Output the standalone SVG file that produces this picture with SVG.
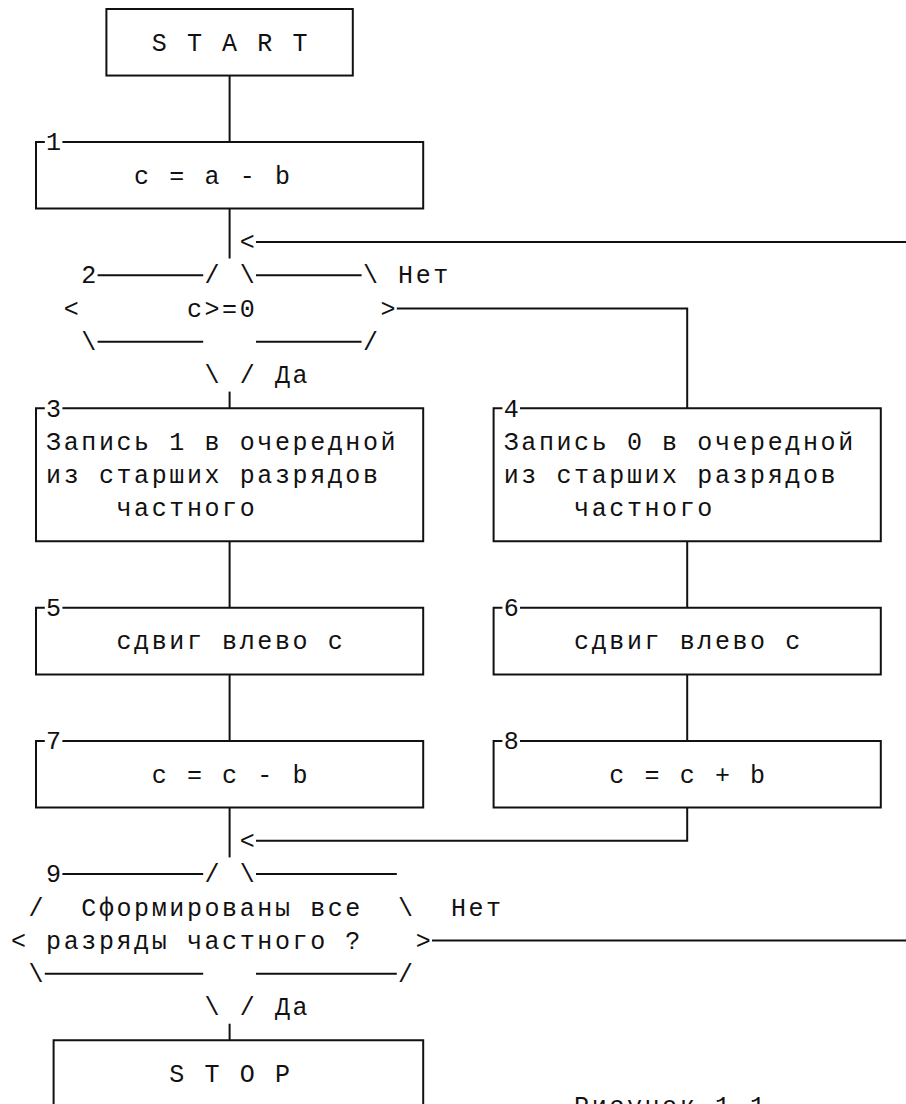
<svg xmlns="http://www.w3.org/2000/svg" width="906" height="1104" viewBox="0 0 906 1104">
  <style>
    .t { font-family: "Liberation Mono", "DejaVu Sans Mono", monospace; font-size: 25px; letter-spacing: 2.6px; fill: #111; }
    .ln { stroke: #111; stroke-width: 2; fill: none; stroke-linecap: butt; stroke-linejoin: miter; }
  </style>
  <rect x="0" y="0" width="906" height="1104" fill="#fff"/>

  <!-- connectors: column 11 = x 229.6, column 37 = x 687.2 -->
  <g id="connectors">
    <path class="ln" d="M229.6,75.54 V142.08"/>
    <path class="ln" d="M229.6,208.62 V258.5"/>
    <path class="ln" d="M256,241.89 H910"/>
    <text class="t" x="239.7" y="250.19">&lt;</text>
    <path class="ln" d="M396.8,308.43 H687.2 V408.24"/>
    <path class="ln" d="M229.6,391.6 V408.24"/>
    <path class="ln" d="M229.6,541.32 V607.86"/>
    <path class="ln" d="M687.2,541.32 V607.86"/>
    <path class="ln" d="M229.6,674.4 V740.94"/>
    <path class="ln" d="M687.2,674.4 V740.94"/>
    <path class="ln" d="M229.6,807.48 V857.4"/>
    <path class="ln" d="M687.2,807.48 V840.75 H256"/>
    <text class="t" x="239.7" y="849.05">&lt;</text>
    <path class="ln" d="M432,940.56 H910"/>
    <path class="ln" d="M229.6,1023.7 V1040.37"/>
  </g>

  <g id="start">
    <rect class="ln" x="106.4" y="9" width="246.4" height="66.54"/>
    <text class="t" x="151.7" y="50.57">S T A R T</text>
  </g>

  <g id="n1">
    <path class="ln" d="M44.8,142.08 H36 V208.62 H423.2 V142.08 H62.4"/>
    <text class="t" x="46.1" y="150.38">1</text>
    <text class="t" x="134.1" y="183.65">c = a - b</text>
  </g>

  <g id="n2">
    <text class="t" x="81.3" y="283.46">2</text>
    <path class="ln" d="M97.6,275.16 H203.2 M256,275.16 H361.6"/>
    <text class="t" x="204.5" y="283.46">/</text>
    <text class="t" x="239.7" y="283.46">\</text>
    <text class="t" x="362.9" y="283.46">\</text>
    <text class="t" x="398.1" y="283.46">Нет</text>
    <text class="t" x="63.7" y="316.73">&lt;</text>
    <text class="t" x="186.9" y="316.73">c&gt;=0</text>
    <text class="t" x="380.5" y="316.73">&gt;</text>
    <text class="t" x="81.3" y="350">\</text>
    <path class="ln" d="M97.6,341.7 H203.2 M256,341.7 H361.6"/>
    <text class="t" x="362.9" y="350">/</text>
    <text class="t" x="204.5" y="383.27">\</text>
    <text class="t" x="239.7" y="383.27">/</text>
    <text class="t" x="274.9" y="383.27">Да</text>
  </g>

  <g id="n3">
    <path class="ln" d="M44.8,408.24 H36 V541.32 H423.2 V408.24 H62.4"/>
    <text class="t" x="46.1" y="416.54">3</text>
    <text class="t" x="46.1" y="449.81">Запись 1 в очередной</text>
    <text class="t" x="46.1" y="483.08">из старших разрядов</text>
    <text class="t" x="116.5" y="516.35">частного</text>
  </g>

  <g id="n4">
    <path class="ln" d="M502.4,408.24 H493.6 V541.32 H880.8 V408.24 H520"/>
    <text class="t" x="503.7" y="416.54">4</text>
    <text class="t" x="503.7" y="449.81">Запись 0 в очередной</text>
    <text class="t" x="503.7" y="483.08">из старших разрядов</text>
    <text class="t" x="574.1" y="516.35">частного</text>
  </g>

  <g id="n5">
    <path class="ln" d="M44.8,607.86 H36 V674.4 H423.2 V607.86 H62.4"/>
    <text class="t" x="46.1" y="616.16">5</text>
    <text class="t" x="116.5" y="649.43">сдвиг влево с</text>
  </g>

  <g id="n6">
    <path class="ln" d="M502.4,607.86 H493.6 V674.4 H880.8 V607.86 H520"/>
    <text class="t" x="503.7" y="616.16">6</text>
    <text class="t" x="574.1" y="649.43">сдвиг влево с</text>
  </g>

  <g id="n7">
    <path class="ln" d="M44.8,740.94 H36 V807.48 H423.2 V740.94 H62.4"/>
    <text class="t" x="46.1" y="749.24">7</text>
    <text class="t" x="151.7" y="782.51">c = c - b</text>
  </g>

  <g id="n8">
    <path class="ln" d="M502.4,740.94 H493.6 V807.48 H880.8 V740.94 H520"/>
    <text class="t" x="503.7" y="749.24">8</text>
    <text class="t" x="609.3" y="782.51">c = c + b</text>
  </g>

  <g id="n9">
    <text class="t" x="46.1" y="882.32">9</text>
    <path class="ln" d="M62.4,874.02 H203.2 M256,874.02 H396.8"/>
    <text class="t" x="204.5" y="882.32">/</text>
    <text class="t" x="239.7" y="882.32">\</text>
    <text class="t" x="28.5" y="915.59">/</text>
    <text class="t" x="81.3" y="915.59">Сформированы все</text>
    <text class="t" x="398.1" y="915.59">\</text>
    <text class="t" x="450.9" y="915.59">Нет</text>
    <text class="t" x="10.9" y="948.86">&lt;</text>
    <text class="t" x="46.1" y="948.86">разряды частного ?</text>
    <text class="t" x="415.7" y="948.86">&gt;</text>
    <text class="t" x="28.5" y="982.13">\</text>
    <path class="ln" d="M44.8,973.83 H203.2 M256,973.83 H396.8"/>
    <text class="t" x="398.1" y="982.13">/</text>
    <text class="t" x="204.5" y="1015.4">\</text>
    <text class="t" x="239.7" y="1015.4">/</text>
    <text class="t" x="274.9" y="1015.4">Да</text>
  </g>

  <g id="stop">
    <path class="ln" d="M53.6,1110 V1040.37 H423.2 V1110"/>
    <text class="t" x="169.3" y="1081.94">S T O P</text>
  </g>

  <g id="caption">
    <text class="t" x="574.1" y="1114">Рисунок 1.1</text>
  </g>
</svg>
